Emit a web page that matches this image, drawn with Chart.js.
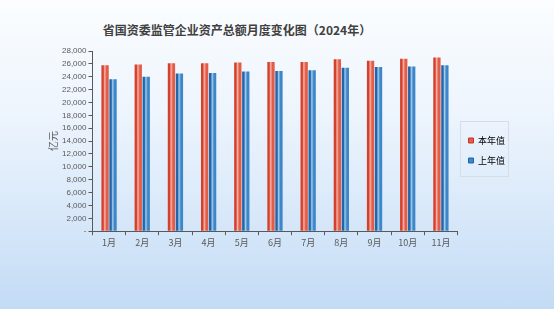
<!DOCTYPE html>
<html>
<head>
<meta charset="utf-8">
<script src="https://cdn.jsdelivr.net/npm/chart.js@4.4.1/dist/chart.umd.min.js"></script>
<style>
  html, body { margin: 0; padding: 0; }
  body {
    width: 554px; height: 309px; overflow: hidden; position: relative;
    background: linear-gradient(to bottom, #fbfdff 0%, #eef5fd 35%, #dbeafa 65%, #c3dbf5 100%);
    font-family: "Noto Sans CJK SC", "Noto Sans", sans-serif;
  }
  #title {
    position: absolute; left: 0; width: 474px; top: 21px; text-align: center;
    font-size: 12px; font-weight: bold; color: #404040;
  }
  #wrap { position: absolute; left: 0; top: 0; width: 554px; height: 309px; }
</style>
</head>
<body>
<div id="title">省国资委监管企业资产总额月度变化图（2024年）</div>
<div id="wrap"><canvas id="chart"></canvas></div>
<script>
const months = ['1月', '2月', '3月', '4月', '5月', '6月', '7月', '8月', '9月', '10月', '11月'];
const thisYear = [25800, 25900, 26100, 26100, 26200, 26300, 26300, 26700, 26500, 26800, 27000];
const lastYear = [23600, 24000, 24500, 24600, 24800, 24900, 25000, 25400, 25500, 25600, 25800];
const yMax = 28000;
const yStep = 2000;

const catPct = 0.48;
const barPct = 0.92;

// horizontal gradient for the cylinder look of each bar
function barFill(dark, light, mid) {
    return (ctx) => {
        const chart = ctx.chart;
        const xs = chart.scales.x;
        if (!xs || ctx.dataIndex === undefined) return mid;
        const cat = xs.width / months.length;
        const range = cat * catPct;
        const size = range / 2;
        const start = xs.getPixelForValue(ctx.dataIndex) - range / 2 + size * ctx.datasetIndex;
        const w = size * barPct;
        const left = start + (size - w) / 2;
        const g = chart.ctx.createLinearGradient(left, 0, left + w, 0);
        g.addColorStop(0, dark);
        g.addColorStop(0.25, dark);
        g.addColorStop(0.45, light);
        g.addColorStop(0.7, mid);
        g.addColorStop(1, mid);
        return g;
    };
}

// frame around the legend items only
const legendFrame = {
    id: 'legendFrame',
    afterDraw(chart) {
        const boxes = chart.legend.legendHitBoxes;
        if (!boxes || !boxes.length) return;
        const top = boxes[0].top - 15;
        const bottom = boxes[boxes.length - 1].top + boxes[boxes.length - 1].height + 11;
        const left = Math.min(...boxes.map(b => b.left)) - 8;
        const right = left + 48;
        const c = chart.ctx;
        c.save();
        c.strokeStyle = '#d6dde6';
        c.lineWidth = 1;
        c.strokeRect(Math.round(left) + 0.5, Math.round(top) + 0.5, right - left, bottom - top);
        c.restore();
    }
};

const chart = new Chart(document.getElementById('chart').getContext('2d'), {
    type: 'bar',
    data: {
        labels: months,
        datasets: [{
            label: '本年值',
            data: thisYear,
            backgroundColor: barFill('#d4402e', '#f7b3a6', '#e35c48'),
            borderWidth: 0,
            categoryPercentage: catPct,
            barPercentage: barPct
        }, {
            label: '上年值',
            data: lastYear,
            backgroundColor: barFill('#2166a8', '#a3cbee', '#3d86c8'),
            borderWidth: 0,
            categoryPercentage: catPct,
            barPercentage: barPct
        }]
    },
    options: {
        responsive: false,
        animation: false,
        layout: { padding: { left: 47, right: 39, top: 51, bottom: 27 } },
        plugins: {
            title: { display: false },
            tooltip: { enabled: false },
            legend: {
                position: 'right',
                align: 'center',
                labels: {
                    boxWidth: 5,
                    boxHeight: 5,
                    padding: 11,
                    color: '#595959',
                    font: { size: 9, family: '"Noto Sans CJK SC", sans-serif' },
                    generateLabels: (chart) => chart.data.datasets.map((ds, i) => ({
                        text: ds.label,
                        fillStyle: i === 0 ? '#e35c48' : '#3d86c8',
                        strokeStyle: i === 0 ? '#c0392b' : '#2166a8',
                        lineWidth: 1,
                        datasetIndex: i
                    }))
                }
            }
        },
        scales: {
            x: {
                grid: { drawOnChartArea: false, color: '#595959', tickLength: 4, tickColor: '#595959' },
                border: { color: '#595959', width: 1 },
                ticks: { color: '#595959', font: { size: 9, family: '"Noto Sans CJK SC", sans-serif' }, padding: 2 }
            },
            y: {
                min: 0,
                max: yMax,
                title: {
                    display: true,
                    text: '亿元',
                    color: '#595959',
                    font: { size: 10, family: '"Noto Sans CJK SC", sans-serif' },
                    padding: { top: 0, bottom: 1 }
                },
                grid: { drawOnChartArea: false, tickLength: 4, tickColor: '#595959' },
                border: { color: '#595959', width: 1 },
                ticks: {
                    stepSize: yStep,
                    autoSkip: false,
                    color: '#595959',
                    padding: 2,
                    font: { size: 8, family: '"Liberation Sans", sans-serif' },
                    callback: (v) => v === 0 ? '-' : v.toLocaleString('en-US')
                }
            }
        }
    },
    plugins: [legendFrame]
});
chart.canvas.style.width = '554px';
chart.canvas.style.height = '309px';
chart.resize(554, 309);
</script>
</body>
</html>
